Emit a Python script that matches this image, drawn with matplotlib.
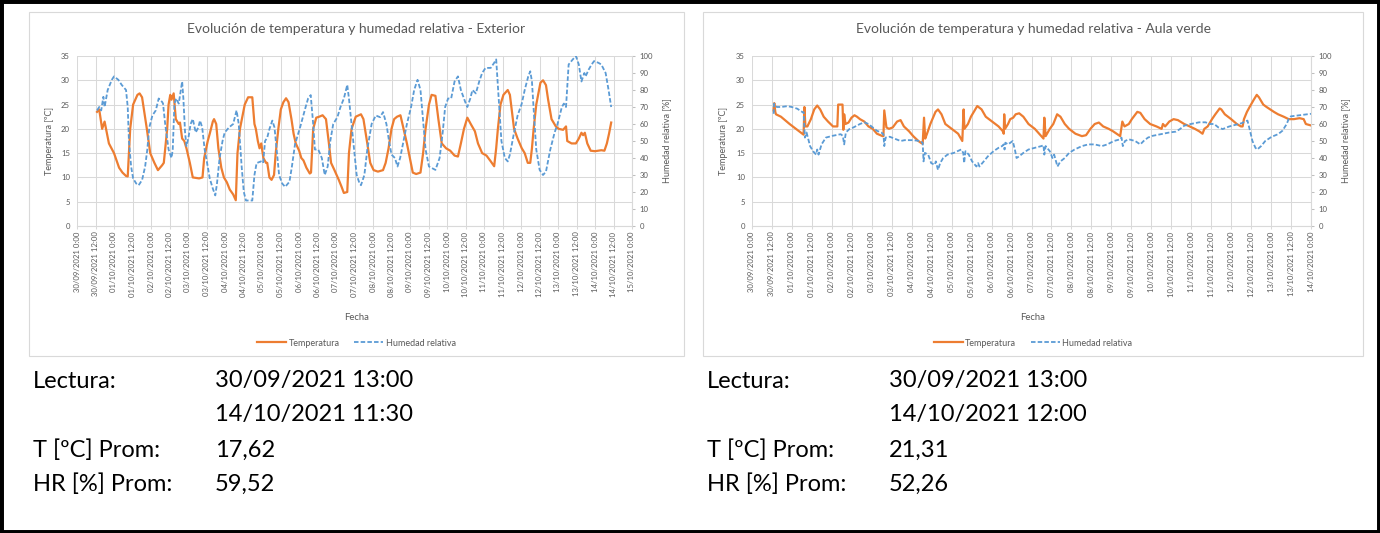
import matplotlib
matplotlib.use("Agg")
import matplotlib.pyplot as plt
from matplotlib.patches import Rectangle
from matplotlib.lines import Line2D
from datetime import datetime, timedelta

plt.rcParams["font.family"] = ["Lato", "DejaVu Sans"]

GRAY, GRID, AXIS = "#595959", "#d9d9d9", "#bfbfbf"
ORANGE, BLUE = "#ED7D31", "#5B9BD5"

# ---- Exterior (horas desde 30/09/2021 0:00) ----
ext_t_h = [13.0, 14.4, 16.3, 17.9, 20.7, 24.0, 27.3, 29.5, 31.8, 32.9, 34.5, 36.4, 39.2, 40.6, 42.2,
           45.3, 47.5, 50.2, 52.5, 55.2, 56.3, 58.5, 59.4, 60.5, 61.3, 62.7, 64.1, 66.0, 66.8, 68.2,
           69.6, 71.0, 73.2, 75.1, 79.2, 81.4, 82.5, 84.8, 86.1, 88.1, 88.9, 90.3, 91.7, 93.6, 95.3,
           97.2, 99.1, 101.3, 103.0, 104.1, 105.7, 108.8, 111.0, 113.7, 115.1, 116.0, 117.3, 118.4,
           119.5, 120.9, 122.6, 123.4, 124.8, 126.2, 127.8, 128.9, 130.6, 132.2, 133.9, 135.6, 137.2,
           139.1, 140.5, 141.9, 144.1, 145.5, 146.9, 148.8, 151.0, 151.8, 153.2, 155.2, 157.1, 159.3,
           161.5, 163.4, 164.8, 167.0, 169.8, 171.7, 173.1, 175.3, 176.4, 178.1, 180.8, 184.2, 185.8,
           188.3, 190.2, 192.4, 195.2, 198.5, 200.2, 202.1, 204.0, 205.7, 207.6, 209.8, 211.8, 214.0,
           215.9, 217.8, 220.0, 222.8, 224.5, 226.1, 228.3, 230.0, 232.5, 234.4, 236.6, 239.4, 242.1,
           244.9, 247.1, 249.0, 251.0, 253.2, 255.4, 258.1, 260.1, 262.8, 265.6, 268.4, 270.6, 271.9,
           273.0, 274.7, 276.6, 279.4, 280.8, 283.5, 285.8, 288.5, 290.4, 292.4, 294.0, 295.1, 296.2,
           297.9, 300.6, 302.3, 304.2, 305.6, 307.8, 310.6, 312.5, 315.3, 317.2, 318.0, 320.8, 323.6,
           325.5, 327.2, 328.3, 329.4, 331.0, 333.2, 336.0, 340.1, 342.1, 343.7, 345.1, 346.5]
ext_t_v = [23.5, 24, 20, 21.5, 17, 15, 12, 11, 10.3, 10.2, 20, 25, 27, 27.3, 26.5,
           20, 15, 13, 11.5, 12.5, 13, 20, 25, 27, 26, 27.3, 22, 21, 21.3, 18,
           17.5, 16, 13, 10, 9.8, 10, 14, 17.5, 19, 21.5, 22, 21, 16, 12, 10,
           9, 7.5, 6.5, 5.3, 15, 20, 25, 26.5, 26.5, 21, 20, 17.5, 16,
           17, 14, 13, 13, 10, 9.5, 10.5, 15, 20, 24, 25.5, 26.3, 25.5,
           22, 19, 17, 15.5, 14, 13.5, 12, 10.8, 11, 20, 22.3, 22.5, 22.8,
           22, 17, 13, 11.5, 9.5, 8, 6.8, 7, 15, 20, 22.5, 23, 22,
           17, 13, 11.5, 11.2, 11.5, 13, 16, 20, 22, 22.5, 22.8, 20, 17,
           14, 11, 10.7, 11, 15, 20, 25, 27, 26.8, 22, 17, 16, 15.5,
           14.5, 14.3, 17, 20, 22.3, 21, 19.5, 17, 15, 14.5, 13.3, 12.3, 16,
           20, 25, 27, 28, 27, 20, 18, 16, 15, 13, 13, 16, 20,
           25, 29.5, 30, 29, 26, 22, 20.5, 20, 19.8, 20.5, 17.5, 17, 17,
           18, 19.2, 18.7, 19.2, 17, 15.5, 15.4, 15.6, 15.5, 17, 19, 21.3]

ext_h_h = [13.0, 14.4, 15.7, 17.1, 17.9, 19.9, 22.6, 24.0, 26.8, 29.0, 30.9, 31.8, 32.9, 33.7, 35.1,
           36.4, 38.4, 40.0, 42.2, 44.2, 45.6, 46.9, 48.9, 51.1, 53.0, 55.2, 55.8, 57.2, 59.4, 61.3,
           62.1, 63.2, 64.3, 66.0, 68.2, 69.0, 70.1, 71.0, 72.3, 73.7, 75.1, 77.0, 78.7, 79.8, 81.2,
           82.8, 84.8, 86.1, 88.1, 89.7, 90.8, 92.5, 94.4, 95.8, 98.6, 101.3, 102.7, 103.5, 104.9,
           106.8, 108.2, 109.6, 113.7, 115.1, 116.5, 119.3, 120.7, 122.0, 123.4, 124.8, 126.7, 128.1,
           129.5, 131.1, 133.1, 135.0, 137.8, 139.4, 141.4, 142.7, 144.7, 148.3, 149.9, 151.6, 153.2,
           154.3, 156.5, 158.8, 160.7, 162.6, 164.3, 166.2, 168.9, 170.9, 173.1, 175.3, 176.4, 178.6,
           181.4, 183.3, 184.2, 186.4, 188.3, 191.1, 193.8, 196.6, 198.5, 200.7, 202.4, 204.0, 206.2,
           207.9, 209.6, 211.8, 214.0, 216.7, 218.7, 220.9, 222.8, 224.2, 226.1, 228.3, 232.5, 235.2,
           237.2, 238.8, 240.7, 242.7, 244.9, 247.1, 249.0, 251.8, 253.2, 255.1, 256.5, 258.7, 260.9,
           262.8, 265.0, 268.4, 270.6, 271.9, 273.9, 275.3, 277.5, 279.4, 280.8, 283.5, 285.8, 288.5,
           290.4, 292.7, 294.0, 295.1, 296.8, 297.9, 300.1, 302.3, 304.2, 307.0, 309.8, 311.7, 314.5,
           315.8, 317.2, 318.9, 321.6, 323.6, 325.5, 327.2, 329.1, 329.9, 331.9, 333.8, 335.4, 338.2,
           340.1, 342.9, 344.8, 346.5]
ext_h_v = [68, 70, 68, 76, 70, 80, 86, 88, 86, 83, 81, 80, 70, 50, 35,
           28, 25, 24, 27, 35, 45, 58, 65, 68, 75, 73, 72, 60, 45, 40,
           45, 72, 75, 72, 85, 75, 55, 47, 52, 60, 63, 55, 58, 62, 58,
           45, 35, 28, 22, 18, 25, 40, 50, 55, 58, 60, 65, 68, 60,
           35, 20, 15, 15, 30, 37, 38, 37, 50, 52, 57, 62, 58,
           45, 30, 25, 23, 26, 35, 48, 52, 58, 70, 75, 77, 60,
           45, 45, 40, 30, 35, 50, 60, 64, 70, 75, 83, 75, 55,
           30, 25, 24, 30, 45, 60, 65, 64, 67, 60, 50, 42, 40,
           35, 40, 50, 60, 70, 80, 86, 80, 65, 45, 35, 33, 40,
           55, 70, 75, 75, 85, 88, 80, 73, 70, 75, 80, 78, 85,
           90, 93, 93, 96, 98, 70, 50, 40, 38, 42, 55, 65, 72,
           80, 88, 91, 85, 60, 45, 33, 30, 32, 45, 55, 60, 70,
           72, 70, 95, 98, 100, 95, 85, 90, 88, 92, 95, 97, 96,
           95, 90, 80, 70]

# ---- Aula verde ----
aula_t_h = [13.0, 13.4, 14.0, 14.4, 17.4, 22.6, 26.4, 30.3, 31.0, 31.5, 32.1, 33.3, 35.4, 37.4, 39.2,
            41.0, 43.1, 45.7, 48.7, 51.3, 51.8, 54.4, 54.9, 55.4, 56.2, 58.0, 59.8, 61.6, 63.1, 64.9,
            67.5, 70.0, 72.6, 75.1, 78.5, 79.0, 79.5, 80.8, 82.3, 84.6, 87.2, 89.3, 91.3, 94.4, 96.9,
            100.0, 102.1, 102.6, 103.4, 104.1, 105.2, 107.2, 110.3, 111.8, 113.9, 116.2, 120.0, 123.9,
            126.4, 127.2, 127.7, 129.8, 131.6, 135.4, 138.0, 140.5, 144.4, 148.2, 150.8, 151.3, 151.6,
            152.1, 153.9, 155.2, 157.0, 158.5, 160.6, 163.1, 166.2, 170.0, 173.9, 175.2, 175.7, 176.5,
            179.0, 181.1, 183.4, 185.4, 188.0, 190.6, 194.4, 198.3, 200.8, 203.4, 206.0, 208.5, 211.1,
            214.4, 217.0, 221.3, 222.6, 223.9, 226.5, 228.3, 231.6, 233.4, 236.0, 239.3, 243.1, 246.2,
            247.0, 248.3, 249.6, 250.8, 253.4, 256.0, 259.8, 263.1, 266.2, 268.8, 270.8, 271.9, 273.9,
            276.5, 278.5, 281.1, 282.1, 284.2, 288.0, 291.4, 293.9, 294.9, 295.7, 297.5, 299.1, 301.6,
            303.4, 304.7, 307.3, 309.3, 313.7, 316.2, 319.6, 322.6, 325.7, 329.1, 331.6, 332.9, 336.0]
aula_t_v = [23.8, 25.3, 23.5, 23, 22.5, 21, 20, 19, 18.8, 24.5, 20.5, 20.5, 22, 24, 24.8,
            24, 22.5, 21.5, 20.5, 20.5, 25, 25, 19.8, 23, 21, 21.3, 22.3, 22.8, 22.5, 22,
            21.5, 20.5, 20, 19, 18.5, 18.5, 23.8, 20.3, 20, 20.3, 21.5, 21.8, 20.5, 19.5, 18.5,
            17.5, 17, 17, 22.3, 18, 19, 21, 23.5, 24, 23, 21, 20, 19,
            17.5, 24, 20, 21, 22.5, 24.7, 24, 22.5, 21.5, 20.5, 19.5, 19, 23,
            20, 21, 22, 22.3, 23, 23.2, 22.5, 21, 20, 18.5, 18, 22.3, 18.5,
            20, 21, 23, 22.5, 21, 20, 19, 18.5, 18.7, 20, 21, 21.3, 20.5,
            20, 19.5, 18.5, 21.5, 20.5, 21, 22, 23.5, 23.3, 22, 21, 20.5, 20,
            21, 20.5, 21, 21.5, 22, 21.8, 21, 20.5, 20, 19.5, 19, 20, 20.5,
            22, 23, 24.2, 24, 23, 22, 21, 20.5, 20.5, 22, 23.5, 24.5, 26,
            27, 26.5, 25, 24.5, 23.5, 23, 22.5, 22, 22, 22.2, 22, 21, 20.7]

aula_h_h = [13.0, 13.3, 14.9, 17.4, 21.3, 23.9, 27.2, 30.3, 31.0, 31.8, 32.8, 34.9, 36.7, 38.5, 39.2,
            40.0, 41.8, 44.4, 48.2, 53.3, 54.6, 55.4, 56.4, 58.5, 61.0, 64.9, 67.5, 70.0, 72.6, 75.1,
            77.7, 79.0, 79.5, 80.3, 82.8, 86.7, 89.3, 91.8, 96.9, 100.8, 102.6, 103.1, 103.9, 105.9,
            107.7, 109.8, 110.5, 111.8, 113.1, 114.9, 117.5, 121.3, 125.7, 127.0, 127.5, 128.3, 130.3,
            132.3, 134.9, 135.9, 136.7, 139.3, 141.8, 145.2, 148.2, 150.3, 151.3, 151.8, 152.3, 153.9,
            156.7, 158.0, 159.0, 160.6, 163.1, 166.2, 170.0, 173.9, 175.2, 175.7, 176.5, 179.0, 180.6,
            181.6, 183.6, 185.4, 188.0, 190.6, 193.9, 198.3, 202.1, 205.9, 210.3, 213.6, 217.5, 221.3,
            222.1, 222.9, 224.2, 226.5, 230.3, 233.4, 235.4, 238.0, 240.6, 245.7, 248.3, 250.8, 254.7,
            257.2, 259.8, 263.7, 268.8, 272.6, 275.2, 277.8, 280.3, 282.9, 286.7, 290.6, 294.4, 296.5,
            297.8, 299.1, 300.8, 302.6, 303.7, 306.0, 308.5, 312.4, 316.2, 318.8, 321.4, 322.6, 323.9,
            327.8, 331.6, 336.0]
aula_h_v = [66, 72, 70, 70, 70.5, 70, 69, 67, 67, 52, 55, 47, 44, 42, 45,
            42, 48, 52, 53, 54, 53, 48, 55, 57, 58, 60, 61, 60, 58, 56,
            55, 54, 47, 52, 52.5, 51, 50, 50.5, 50.5, 50, 49, 38, 43, 42,
            37, 36, 38, 33, 37, 40, 42, 43, 45, 43, 37, 44, 42,
            38, 35, 37, 35, 38, 41, 44, 46, 47, 48, 45, 49, 48,
            50, 45, 40, 41, 43, 45, 46, 47, 47.5, 42, 47, 44, 40,
            42, 35, 38, 40, 43, 45, 47, 48, 48, 47, 48, 50, 51,
            52, 47, 50, 51, 50, 48, 50, 52, 53, 54, 54.5, 55, 55.5,
            57, 59, 60, 61, 61, 60, 60, 58, 57, 58.5, 59.5, 60.5, 61.5,
            62, 57, 50, 46, 45, 47, 50, 52.5, 54, 56, 60, 63, 64.5,
            65, 65.5, 66]

start_date = datetime(2021, 9, 30)
summaries = [
    ("30/09/2021 13:00", "14/10/2021 11:30", "17,62", "59,52"),
    ("30/09/2021 13:00", "14/10/2021 12:00", "21,31", "52,26"),
]

W, H = 1380, 533
fig = plt.figure(figsize=(W / 100, H / 100), dpi=100)


def fx(x): return x / W
def fy(y): return 1 - y / H


def panel(ax_px, box_px, title, th, tv, hh, hv, hours_end, ylab_x, y2lab_x):
    x0, y0, x1, y1 = box_px
    fig.patches.append(Rectangle((fx(x0), fy(y1)), fx(x1 - x0), (y1 - y0) / H,
                                 transform=fig.transFigure, fill=False, ec=GRID, lw=0.8))
    a0, b0, a1, b1 = ax_px
    ax = fig.add_axes([fx(a0), fy(b1), fx(a1 - a0), (b1 - b0) / H])
    ax.plot(th, tv, color=ORANGE, lw=1.6)
    ax.set_xlim(0, hours_end); ax.set_ylim(0, 35)
    ax.set_yticks(range(0, 36, 5))
    ticks = list(range(0, hours_end + 1, 12))
    labels = [f"{(start_date + timedelta(hours=t)):%d/%m/%Y} {(start_date + timedelta(hours=t)).hour}:00" for t in ticks]
    ax.set_xticks(ticks); ax.set_xticklabels(labels, rotation=90)
    ax.grid(True, color=GRID, lw=0.75)
    ax.set_axisbelow(True)
    for s in ["top", "left", "right"]:
        ax.spines[s].set_visible(False)
    ax.spines["bottom"].set_color(GRID)
    ax.tick_params(axis="x", colors=GRID, labelcolor=GRAY, labelsize=5.6, length=2.5, width=0.75, pad=1.5)
    ax.tick_params(axis="y", length=0, labelcolor=GRAY, labelsize=5.6, pad=5)

    ax2 = ax.twinx()
    ax2.plot(hh, hv, color=BLUE, lw=1.3, linestyle=(0, (2.5, 1.2)))
    ax2.set_xlim(0, hours_end); ax2.set_ylim(0, 100)
    ax2.set_yticks(range(0, 101, 10))
    for s in ["top", "left", "bottom"]:
        ax2.spines[s].set_visible(False)
    ax2.spines["right"].set_color(GRID)
    ax2.tick_params(axis="y", colors=AXIS, labelcolor=GRAY, labelsize=5.6, length=2.5, width=0.75, pad=3)

    cx = (x0 + x1) / 2
    fig.text(fx(cx), fy(29), title, ha="center", va="center", fontsize=10, color=GRAY)
    fig.text(fx(cx), fy(317), "Fecha", ha="center", va="center", fontsize=6.8, color=GRAY)
    fig.text(fx(ylab_x), fy((b0 + b1) / 2), "Temperatura [ºC]", rotation=90,
             ha="center", va="center", fontsize=6.5, color=GRAY)
    fig.text(fx(y2lab_x), fy((b0 + b1) / 2), "Humedad relativa [%]", rotation=90,
             ha="center", va="center", fontsize=6.5, color=GRAY)
    handles = [Line2D([], [], color=ORANGE, lw=1.6),
               Line2D([], [], color=BLUE, lw=1.3, linestyle=(0, (2.5, 1.2)))]
    fig.legend(handles, ["Temperatura", "Humedad relativa"], loc="center",
               bbox_to_anchor=(fx(cx), fy(343)), ncol=2, frameon=False, fontsize=6.5,
               labelcolor=GRAY, handlelength=3.2, handletextpad=0.3, columnspacing=1.6)


panel((77, 56, 632, 226), (29, 12, 684, 356),
      "Evolución de temperatura y humedad relativa - Exterior",
      ext_t_h, ext_t_v, ext_h_h, ext_h_v, 360, 49, 667)
panel((752, 56, 1311, 226), (703, 12, 1363, 356),
      "Evolución de temperatura y humedad relativa - Aula verde",
      aula_t_h, aula_t_v, aula_h_h, aula_h_v, 336, 723, 1346)

row_y = [381, 414, 450, 484]
for (lx, vx), (ini, fin, tprom, hprom) in zip([(33, 215), (707, 889)], summaries):
    rows = [("Lectura:", ini), ("", fin), ("T [ºC] Prom:", tprom), ("HR [%] Prom:", hprom)]
    for y, (lab, val) in zip(row_y, rows):
        fig.text(fx(lx), fy(y), lab, ha="left", va="center", fontsize=17, color="black")
        fig.text(fx(vx), fy(y), val, ha="left", va="center", fontsize=17, color="black")

fig.patches.append(Rectangle((0, 0), 1, 1, transform=fig.transFigure, fill=False, ec="black", lw=5))

fig.savefig("out.png", dpi=100)
